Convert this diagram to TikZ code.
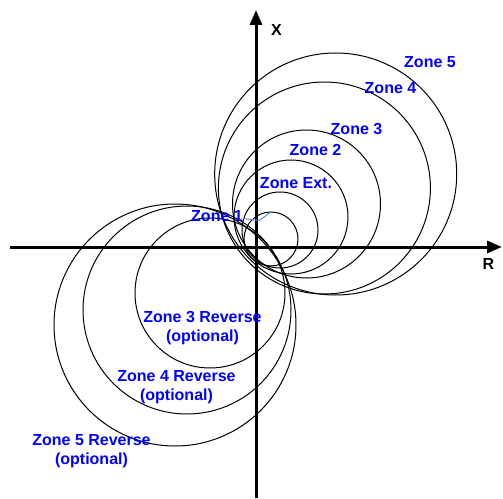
\documentclass[tikz,border=0pt]{standalone}
\usepackage{fontspec}
\setmainfont{Liberation Sans}
\usetikzlibrary{arrows.meta}
\definecolor{leadblue}{RGB}{90,140,210}

\begin{document}
\begin{tikzpicture}[
    x=0.5pt, y=0.5pt,
    ring/.style={draw=black, line width=0.5pt},
    axis/.style={-{Triangle[length=7.5pt, width=6pt]}, line width=1.5pt},
    zone/.style={text=blue, font=\bfseries\fontsize{8}{9.5}\selectfont, align=center, inner sep=0pt},
    axlabel/.style={font=\bfseries\fontsize{8}{9.5}\selectfont, inner sep=0pt},
    leader/.style={draw=leadblue, line width=0.5pt}
]
\useasboundingbox (-256,-251) rectangle (247,247);

% forward zones
\draw[ring] (15,8) circle (27);
\draw[ring] (24,17) circle (38);
\draw[ring] (35,30) circle (57);
\draw[ring] (50.5,43) circle (74);
\draw[ring] (68.4,59) circle (106);
\draw[ring] (79.7,73) circle (121);

% reverse zones
\draw[ring] (-46,-46) circle (75);
\draw[ring] (-69,-63) circle (104);
\draw[ring] (-81,-78) circle (121);

% axes
\coordinate (rneg) at (-246,0);
\coordinate (rpos) at (246,0);
\coordinate (xneg) at (0,-251);
\coordinate (xpos) at (0,237);
\draw[axis] (rneg) -- (rpos);
\draw[axis] (xneg) -- (xpos);
\node[axlabel] (xlbl) at (20.5,217) {X};
\node[axlabel] (rlbl) at (232.5,-16.5) {R};

% labels
\node[zone] (z5) at (174,185) {Zone 5};
\node[zone] (z4) at (134.5,159) {Zone 4};
\node[zone] (z3) at (100.5,117.5) {Zone 3};
\node[zone] (z2) at (59.5,97) {Zone 2};
\node[zone] (zext) at (40,63.5) {Zone Ext.};
\node[zone] (z1) at (-39,30.5) {Zone 1};
\node[zone] (z3r) at (-53.5,-81) {Zone 3 Reverse\\(optional)};
\node[zone] (z4r) at (-79.5,-140) {Zone 4 Reverse\\(optional)};
\node[zone] (z5r) at (-164.5,-204) {Zone 5 Reverse\\(optional)};

\coordinate (z1top) at (15,35);
\draw[leader] ([yshift=-1]z1.east) -- ++(16,-2) -- (z1top);
\end{tikzpicture}
\end{document}
